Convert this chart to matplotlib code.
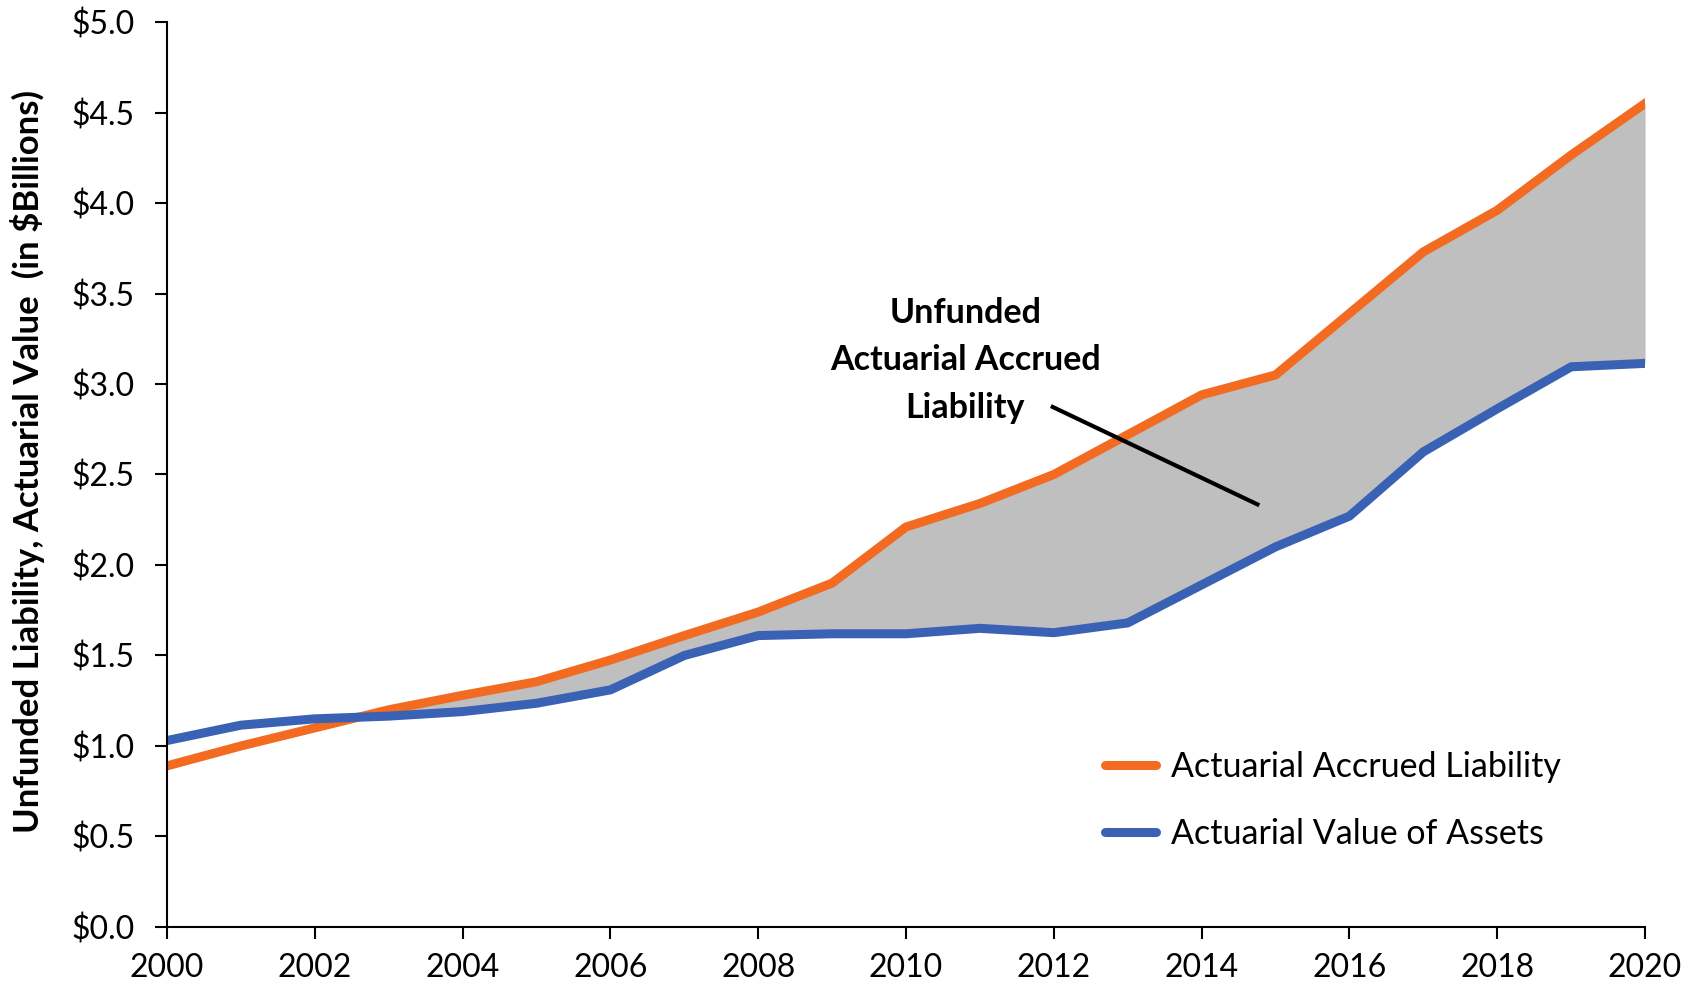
import numpy as np
import matplotlib.pyplot as plt
from matplotlib.ticker import FuncFormatter

plt.rcParams['font.family'] = ['Lato', 'DejaVu Sans']

# values (in $ billions)
years = list(range(2000, 2021))
liability = [0.89, 1.00, 1.10, 1.20, 1.28, 1.355, 1.475, 1.61, 1.74, 1.90, 2.21,
             2.34, 2.50, 2.72, 2.94, 3.05, 3.39, 3.73, 3.96, 4.265, 4.55]
assets = [1.03, 1.115, 1.15, 1.165, 1.19, 1.236, 1.31, 1.50, 1.61, 1.62, 1.62,
          1.65, 1.626, 1.68, 1.89, 2.10, 2.27, 2.625, 2.863, 3.095, 3.114]
xticks = list(range(2000, 2021, 2))
yticks = [0.0, 0.5, 1.0, 1.5, 2.0, 2.5, 3.0, 3.5, 4.0, 4.5, 5.0]

orange = '#F26B21'
blue = '#3A62B4'

fig = plt.figure(figsize=(16.9, 9.96), dpi=100)
ax = fig.add_axes([0.0988, 0.0693, 0.8746, 0.9086])

x = np.array(years)
l = np.array(liability)
a = np.array(assets)
ax.fill_between(x, a, l, where=l >= a, interpolate=True, color='#BFBFBF', lw=0)
ax.plot(x, l, color=orange, lw=6.5, label='Actuarial Accrued Liability')
ax.plot(x, a, color=blue, lw=6.5, label='Actuarial Value of Assets')

ax.set_xlim(2000, 2020)
ax.set_ylim(0, 5)
ax.set_xticks(xticks)
ax.set_yticks(yticks)
ax.yaxis.set_major_formatter(FuncFormatter(lambda v, p: '${:.1f}'.format(v)))
ax.tick_params(labelsize=23, length=8.5, width=1.5, direction='out')
ax.tick_params(axis='y', pad=15)
ax.tick_params(axis='x', pad=10)
for s in ['top', 'right']:
    ax.spines[s].set_visible(False)
for s in ['left', 'bottom']:
    ax.spines[s].set_linewidth(1.5)

fig.text(0.016, 0.537, 'Unfunded Liability, Actuarial Value  (in $Billions)',
         rotation=90, ha='center', va='center', fontsize=25, fontweight='bold')

# annotation for the shaded gap
ax.text(2010.8, 3.13, 'Unfunded\nActuarial Accrued\nLiability', ha='center', va='center',
        fontsize=24.5, fontweight='bold', linespacing=1.6)
ax.plot([2011.96, 2014.78], [2.878, 2.33], color='black', lw=3, solid_capstyle='butt')

leg = ax.legend(loc='center left', bbox_to_anchor=(0.623, 0.1398), fontsize=24.5,
                frameon=False, borderpad=0, handlelength=1.5, handletextpad=0.45,
                labelspacing=1.05)
for h in leg.get_lines():
    h.set_solid_capstyle('round')

fig.savefig('out.png', dpi=100)
